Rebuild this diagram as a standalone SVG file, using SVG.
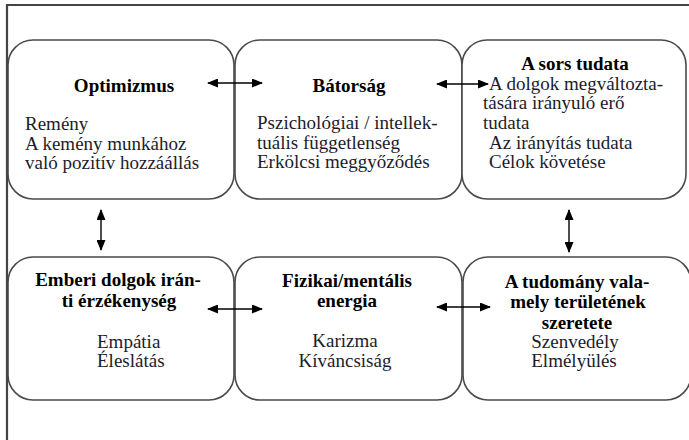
<svg xmlns="http://www.w3.org/2000/svg" width="689" height="440" viewBox="0 0 689 440">
<defs>
<marker id="ah" markerUnits="userSpaceOnUse" markerWidth="11" markerHeight="9" refX="10" refY="4.5" orient="auto-start-reverse">
<path d="M0,0 L11,4.5 L0,9 z" fill="#000"/>
</marker>
<style>
.box{fill:#fff;stroke:#4a4a4a;stroke-width:1.6}
text{font-family:'Liberation Serif','DejaVu Serif',serif}
.t{font-size:19px;fill:#1c1c2c}
.b{font-size:19px;font-weight:bold;fill:#000}
.c{text-anchor:middle}
.con{stroke:#000;stroke-width:1.4;fill:none;marker-start:url(#ah);marker-end:url(#ah)}
.frame{stroke:#444;stroke-width:2.2;fill:none}
</style>
</defs>
<rect width="689" height="440" fill="#fff"/>
<path class="frame" d="M7,440 L7,5 L689,5"/>

<g id="optimizmus" font-family="Liberation Serif, serif">
<rect class="box" x="8" y="40" width="226" height="159" rx="25"/>
<text class="b c" x="124" y="92">Optimizmus</text>
<text class="t" x="25" y="130">Remény</text>
<text class="t" x="25" y="150">A kemény munkához</text>
<text class="t" x="25" y="169">való pozitív hozzáállás</text>
</g>

<g id="batorsag" font-family="Liberation Serif, serif">
<rect class="box" x="235" y="40" width="227" height="159" rx="25"/>
<text class="b c" x="349" y="92">Bátorság</text>
<text class="t" x="257" y="129">Pszichológiai / intellek-</text>
<text class="t" x="257" y="149">tuális függetlenség</text>
<text class="t" x="257" y="168">Erkölcsi meggyőződés</text>
</g>

<g id="sors" font-family="Liberation Serif, serif">
<rect class="box" x="462" y="40" width="224" height="159" rx="25"/>
<text class="b c" x="575" y="70">A sors tudata</text>
<text class="t" x="489" y="90">A dolgok megváltozta-</text>
<text class="t" x="483" y="109">tására irányuló erő</text>
<text class="t" x="483" y="129">tudata</text>
<text class="t" x="489" y="149">Az irányítás tudata</text>
<text class="t" x="489" y="168">Célok követése</text>
</g>

<g id="emberi" font-family="Liberation Serif, serif">
<rect class="box" x="8" y="257" width="226" height="143" rx="25"/>
<text class="b c" x="118" y="286">Emberi dolgok irán-</text>
<text class="b c" x="119" y="307">ti érzékenység</text>
<text class="t" x="97" y="348">Empátia</text>
<text class="t" x="97" y="367">Éleslátás</text>
</g>

<g id="fizikai" font-family="Liberation Serif, serif">
<rect class="box" x="235" y="257" width="227" height="143" rx="25"/>
<text class="b c" x="347" y="287">Fizikai/mentális</text>
<text class="b c" x="347" y="307">energia</text>
<text class="t c" x="345" y="347">Karizma</text>
<text class="t c" x="345" y="367">Kíváncsiság</text>
</g>

<g id="tudomany" font-family="Liberation Serif, serif">
<rect class="box" x="463" y="257" width="228" height="143" rx="25"/>
<text class="b c" x="577" y="288">A tudomány vala-</text>
<text class="b c" x="578" y="308">mely területének</text>
<text class="b c" x="577" y="329">szeretete</text>
<text class="t c" x="575" y="348">Szenvedély</text>
<text class="t c" x="574" y="367">Elmélyülés</text>
</g>

<g id="connectors">
<line class="con" x1="208" y1="83" x2="262" y2="83"/>
<line class="con" x1="437" y1="84" x2="488" y2="84"/>
<line class="con" x1="101" y1="210" x2="101" y2="250"/>
<line class="con" x1="569" y1="210" x2="569" y2="252"/>
<line class="con" x1="208" y1="309" x2="262" y2="309"/>
<line class="con" x1="437" y1="307" x2="490" y2="307"/>
</g>
</svg>
